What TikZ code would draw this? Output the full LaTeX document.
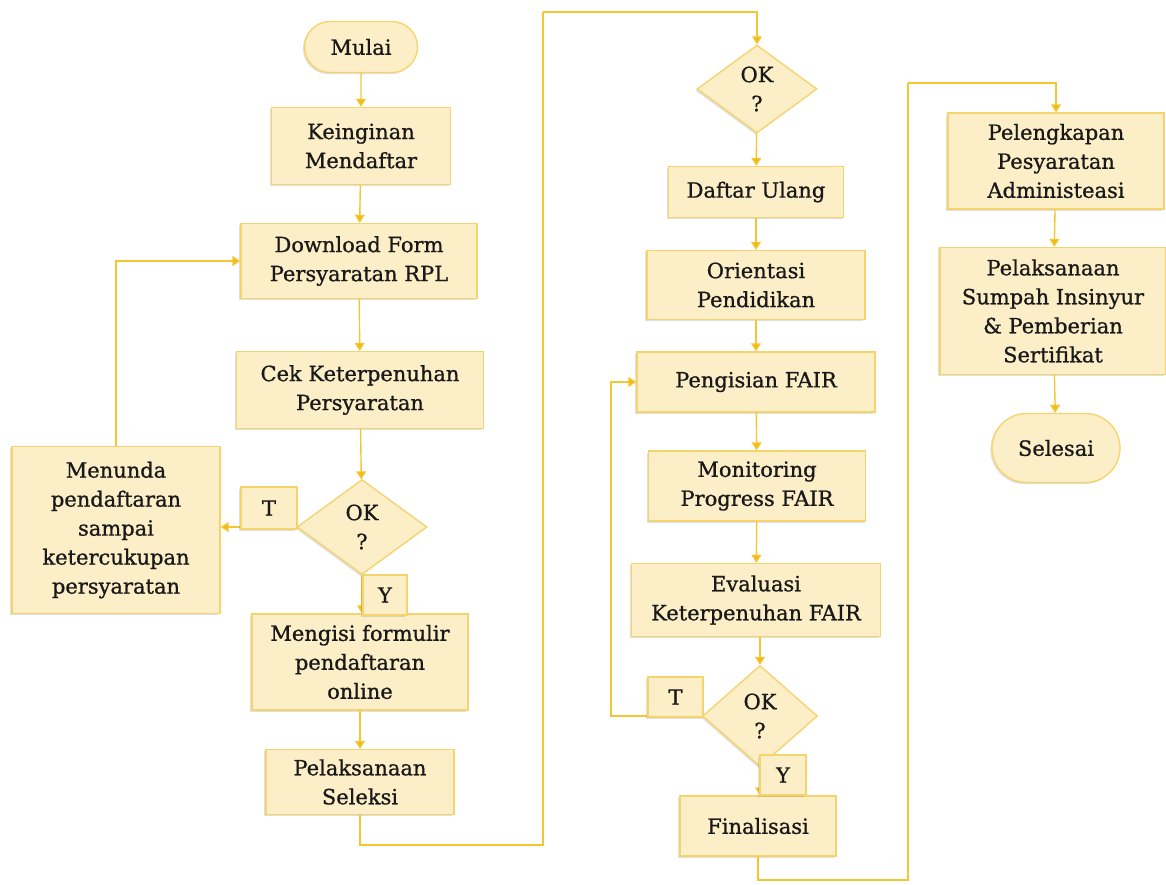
\documentclass[tikz,border=0pt]{standalone}
\usepackage{fontspec}
\setmainfont{DejaVu Serif}[RawFeature={embolden=0.9}]
\usetikzlibrary{shapes.geometric,shapes.misc,arrows.meta,shadows}
\definecolor{cream}{HTML}{FCEFC8}
\definecolor{rim}{HTML}{F5D46E}
\definecolor{wire}{HTML}{F4C632}
\definecolor{tip}{HTML}{F2BA10}
\tikzset{
  base/.style={draw=rim, fill=cream, line width=0.7pt, text=black!90, align=center,
    font=\fontsize{10.5}{14.5}\selectfont, inner sep=1pt,
    drop shadow={shadow xshift=-0.8pt, shadow yshift=-0.8pt, opacity=0.25}},
  box/.style={base, rectangle},
  term/.style={base, rounded rectangle},
  dec/.style={base, diamond, inner sep=0pt},
  lbl/.style={base, rectangle},
  arr/.style={draw=wire, line width=0.7pt, -{Triangle[width=5pt,length=4pt,fill=tip]}},
  wire/.style={draw=wire, line width=0.7pt}
}
\begin{document}
\begin{tikzpicture}[x=0.5pt,y=-0.5pt]
  \useasboundingbox (0,0) rectangle (1166,884);
  %%%%% LEFT COLUMN %%%%%
  \node[term, minimum width=58.5pt, minimum height=25.5pt] (mulai) at (361,47) {Mulai};
  \node[box, minimum width=89.5pt, minimum height=38.5pt] (ingin) at (361,146) {Keinginan\\Mendaftar};
  \node[box, minimum width=118pt, minimum height=37.5pt] (unduh) at (359,261) {Download Form\\Persyaratan RPL};
  \node[box, minimum width=123.5pt, minimum height=38.5pt] (cek) at (360,390) {Cek Keterpenuhan\\Persyaratan};
  \node[dec, minimum width=65pt, minimum height=47.5pt] (okA) at (362,527) {OK\\?};
  \node[box, minimum width=104pt, minimum height=83.5pt] (tunda) at (116,530) {Menunda\\pendaftaran\\sampai\\ketercukupan\\persyaratan};
  \node[box, minimum width=108pt, minimum height=48pt] (isi) at (360,662) {Mengisi formulir\\pendaftaran\\online};
  \node[box, minimum width=94pt, minimum height=32.5pt] (seleksi) at (360,782) {Pelaksanaan\\Seleksi};

  %%%%% MIDDLE COLUMN %%%%%
  \node[dec, minimum width=60pt, minimum height=44pt] (okB) at (757,89) {OK\\?};
  \node[box, minimum width=87.5pt, minimum height=25.5pt] (ulang) at (756,192) {Daftar Ulang};
  \node[box, minimum width=109pt, minimum height=34.5pt] (orien) at (756,285) {Orientasi\\Pendidikan};
  \node[box, minimum width=119pt, minimum height=30pt] (fair) at (756,382) {Pengisian FAIR};
  \node[box, minimum width=108.5pt, minimum height=35pt] (monit) at (757,486) {Monitoring\\Progress FAIR};
  \node[box, minimum width=124.5pt, minimum height=36.5pt] (eval) at (756,600) {Evaluasi\\Keterpenuhan FAIR};
  \node[dec, minimum width=57.5pt, minimum height=50.5pt] (okC) at (760,716) {OK\\?};
  \node[box, minimum width=78pt, minimum height=30pt] (final) at (758,826) {Finalisasi};

  %%%%% RIGHT COLUMN %%%%%
  \node[box, minimum width=108pt, minimum height=48pt] (lengkap) at (1056,161) {Pelengkapan\\Pesyaratan\\Administeasi};
  \node[box, minimum width=113pt, minimum height=63.5pt] (sumpah) at (1053,311) {Pelaksanaan\\Sumpah Insinyur\\\& Pemberian\\Sertifikat};
  \node[term, minimum width=66pt, minimum height=34.5pt] (selesai) at (1056,448) {Selesai};

  %%%%% CONNECTORS %%%%%
  \coordinate (k1) at (543,845);
  \coordinate (k2) at (543,12);
  \coordinate (k3) at (611,550);
  \coordinate (k4) at (908,880);
  \coordinate (k5) at (908,83);

  \draw[arr] (mulai) -- (ingin);
  \draw[arr] (ingin) -- (unduh);
  \draw[arr] (unduh) -- (cek);
  \draw[arr] (cek) -- (okA);
  \draw[arr] (okA.west) -- (okA.west -| tunda.east);
  \draw[arr] (tunda.north) |- (unduh.west);
  \draw[arr] (okA.south) -- (okA.south |- isi.north);
  \draw[arr] (isi) -- (seleksi);
  \draw[wire] (seleksi.south) |- (k1) -- (k2);
  \draw[arr] (k2) -| (okB.north);

  \draw[arr] (okB) -- (ulang);
  \draw[arr] (ulang) -- (orien);
  \draw[arr] (orien) -- (fair);
  \draw[arr] (fair) -- (monit);
  \draw[arr] (monit) -- (eval);
  \draw[arr] (eval.south -| okC.north) -- (okC.north);
  \draw[arr] (okC.west) -| (k3) |- (fair.west);
  \draw[arr] (okC.south) -- (okC.south |- final.north);
  \draw[wire] (final.south) |- (k4) -- (k5);
  \draw[arr] (k5) -| (lengkap.north);

  \draw[arr] (lengkap) -- (sumpah);
  \draw[arr] (sumpah) -- (selesai);

  %%%%% T / Y LABELS %%%%%
  \node[lbl, minimum width=28pt, minimum height=21pt] (tA) at (269,508) {T};
  \node[lbl, minimum width=22pt, minimum height=20pt] (yA) at (385,595) {Y};
  \node[lbl, minimum width=27.5pt, minimum height=20pt] (tC) at (675.5,697) {T};
  \node[lbl, minimum width=23pt, minimum height=20pt] (yC) at (783,775) {Y};
\end{tikzpicture}
\end{document}
